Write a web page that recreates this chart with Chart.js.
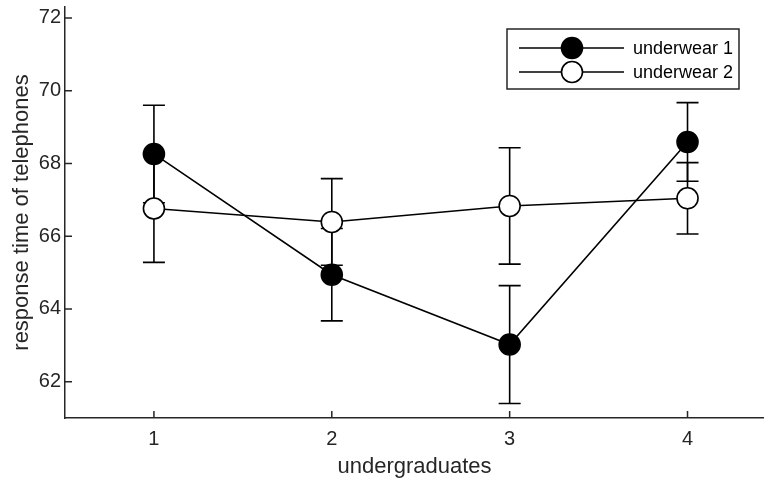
<!DOCTYPE html>
<html>
<head>
<meta charset="utf-8">
<script src="https://cdn.jsdelivr.net/npm/chart.js@4/dist/chart.umd.min.js"></script>
<style>
  html, body { margin: 0; padding: 0; background: #fff; }
  #wrap { width: 764px; height: 482px; }
</style>
</head>
<body>
<div id="wrap"><canvas id="chart" width="764" height="482"></canvas></div>
<script>
// ── Data ────────────────────────────────────────────────────────────────
const categories = [1, 2, 3, 4];
const seriesNames = ["underwear 1", "underwear 2"];
const underwear1 = [68.26, 64.94, 63.02, 68.59];
const underwear1Err = [1.34, 1.27, 1.62, 1.08];
const underwear2 = [66.76, 66.39, 66.83, 67.04];
const underwear2Err = [1.48, 1.19, 1.6, 0.98];
const yTicks = [62, 64, 66, 68, 70, 72];

const AXIS = "#262626";
const FONT = "'Liberation Sans', Arial, Helvetica, sans-serif";

const toPoints = (vals) => categories.map((c, i) => ({ x: c, y: vals[i] }));

// no extra margins for tick labels, keep the plot box where it should be
const noPad = (s) => {
  s.paddingTop = 0;
  s.paddingBottom = 0;
  s.paddingLeft = 0;
  s.paddingRight = 0;
};

// error bars under the markers
const errorBarPlugin = {
  id: "errorBarPlugin",
  beforeDatasetsDraw(chart) {
    const { ctx, scales } = chart;
    ctx.save();
    ctx.strokeStyle = "#000";
    ctx.lineWidth = 1.6;
    chart.data.datasets.forEach((ds) => {
      ds.data.forEach((p, i) => {
        const e = ds.errors[i];
        const x = scales.x.getPixelForValue(p.x);
        const y1 = scales.y.getPixelForValue(p.y - e);
        const y2 = scales.y.getPixelForValue(p.y + e);
        ctx.beginPath();
        ctx.moveTo(x, y1);
        ctx.lineTo(x, y2);
        ctx.moveTo(x - 11, y1);
        ctx.lineTo(x + 11, y1);
        ctx.moveTo(x - 11, y2);
        ctx.lineTo(x + 11, y2);
        ctx.stroke();
      });
    });
    ctx.restore();
  },
};

// inward ticks + boxed legend, matlab style
const axesPlugin = {
  id: "axesPlugin",
  afterDraw(chart) {
    const { ctx, scales, chartArea } = chart;
    ctx.save();
    ctx.strokeStyle = AXIS;
    ctx.lineWidth = 1.5;
    ctx.beginPath();
    yTicks.forEach((v) => {
      const y = scales.y.getPixelForValue(v);
      ctx.moveTo(chartArea.left, y);
      ctx.lineTo(chartArea.left + 7, y);
    });
    categories.forEach((c) => {
      const x = scales.x.getPixelForValue(c);
      ctx.moveTo(x, chartArea.bottom);
      ctx.lineTo(x, chartArea.bottom - 7);
    });
    ctx.stroke();

    // legend
    const bx = 507, by = 29, bw = 232, bh = 60;
    ctx.fillStyle = "#fff";
    ctx.fillRect(bx, by, bw, bh);
    ctx.strokeStyle = AXIS;
    ctx.lineWidth = 1.5;
    ctx.strokeRect(bx, by, bw, bh);
    ctx.font = "18px " + FONT;
    ctx.textBaseline = "middle";
    chart.data.datasets.forEach((ds, i) => {
      const y = 48 + i * 24;
      ctx.strokeStyle = "#000";
      ctx.lineWidth = 1.6;
      ctx.beginPath();
      ctx.moveTo(519, y);
      ctx.lineTo(624, y);
      ctx.stroke();
      ctx.beginPath();
      ctx.arc(572, y, 10.5, 0, Math.PI * 2);
      ctx.fillStyle = ds.pointBackgroundColor;
      ctx.fill();
      ctx.stroke();
      ctx.fillStyle = "#000";
      ctx.fillText(ds.label, 633, y + 1);
    });
    ctx.restore();
  },
};

new Chart(document.getElementById("chart"), {
  type: "line",
  data: {
    datasets: [
      {
        label: seriesNames[0],
        data: toPoints(underwear1),
        errors: underwear1Err,
        borderColor: "#000",
        borderWidth: 1.6,
        pointRadius: 10.5,
        pointBorderWidth: 1.6,
        pointBackgroundColor: "#000",
        pointBorderColor: "#000",
        tension: 0,
      },
      {
        label: seriesNames[1],
        data: toPoints(underwear2),
        errors: underwear2Err,
        borderColor: "#000",
        borderWidth: 1.6,
        pointRadius: 10.5,
        pointBorderWidth: 1.6,
        pointBackgroundColor: "#fff",
        pointBorderColor: "#000",
        tension: 0,
      },
    ],
  },
  options: {
    responsive: false,
    animation: false,
    layout: { autoPadding: false, padding: { top: 7, right: 0, left: 0, bottom: 0 } },
    plugins: { legend: { display: false }, tooltip: { enabled: false } },
    scales: {
      x: {
        type: "linear",
        min: 0.5,
        max: 4.43,
        afterBuildTicks: (s) => { s.ticks = categories.map((v) => ({ value: v })); },
        afterFit: (s) => { s.height = 64; noPad(s); },
        grid: { display: false, drawTicks: false },
        border: { display: true, color: AXIS, width: 1.5 },
        ticks: { color: AXIS, font: { family: FONT, size: 20 }, padding: 9, maxRotation: 0 },
        title: { display: true, text: "undergraduates", color: AXIS, font: { family: FONT, size: 22 }, padding: { top: 0, bottom: 2 } },
      },
      y: {
        min: 61,
        max: 72.3,
        afterBuildTicks: (s) => { s.ticks = yTicks.map((v) => ({ value: v })); },
        afterFit: (s) => { s.width = 65; noPad(s); },
        grid: { display: false, drawTicks: false },
        border: { display: true, color: AXIS, width: 1.5 },
        ticks: { color: AXIS, font: { family: FONT, size: 20 }, padding: 4 },
        title: { display: true, text: "response time of telephones", color: AXIS, font: { family: FONT, size: 22 }, padding: { top: 9, bottom: 0 } },
      },
    },
  },
  plugins: [errorBarPlugin, axesPlugin],
});
</script>
</body>
</html>
